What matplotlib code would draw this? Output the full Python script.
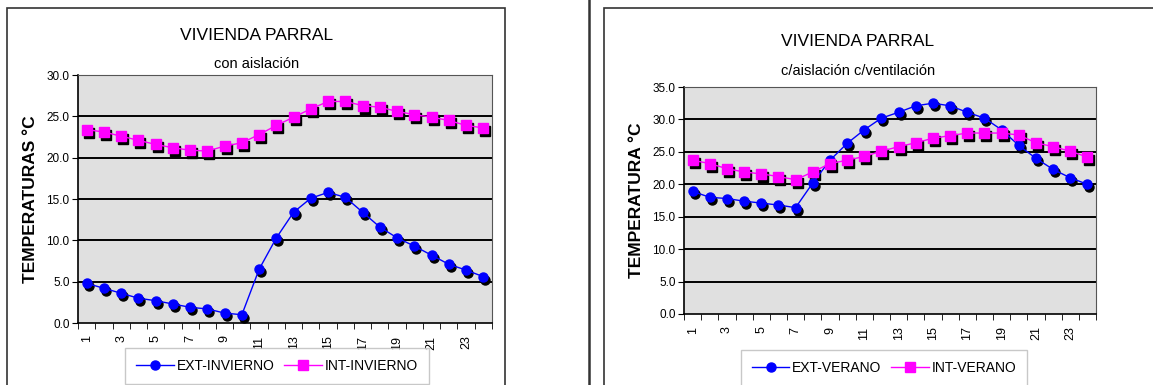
import numpy as np
import matplotlib
matplotlib.use('Agg')
import matplotlib.pyplot as plt
import matplotlib.transforms as mtransforms
from matplotlib.patches import Rectangle
from matplotlib.lines import Line2D

# --- data ---
horas = list(range(1, 25))
tick_labels = [str(h) if h % 2 == 1 else '' for h in horas]

ext_invierno = [4.8, 4.2, 3.6, 3.0, 2.7, 2.3, 1.9, 1.7, 1.2, 1.0, 6.5, 10.3,
                13.4, 15.1, 15.8, 15.2, 13.4, 11.6, 10.3, 9.3, 8.2, 7.1, 6.4, 5.6]
int_invierno = [23.4, 23.1, 22.6, 22.1, 21.6, 21.2, 20.9, 20.8, 21.4, 21.8, 22.8, 23.9,
                24.9, 25.9, 26.8, 26.8, 26.3, 26.1, 25.6, 25.2, 24.9, 24.5, 23.9, 23.6]

ext_verano = [18.9, 18.0, 17.8, 17.4, 17.1, 16.8, 16.4, 20.2, 23.7, 26.3, 28.4, 30.2,
              31.1, 32.1, 32.5, 32.1, 31.1, 30.2, 28.4, 26.0, 24.0, 22.3, 21.0, 20.0]
int_verano = [23.7, 23.2, 22.4, 21.9, 21.6, 21.2, 20.7, 21.9, 23.2, 23.7, 24.3, 25.1,
              25.8, 26.4, 27.1, 27.5, 27.9, 27.9, 27.9, 27.6, 26.4, 25.8, 25.1, 24.2]

W, H = 1153, 385
fig = plt.figure(figsize=(W / 100, H / 100), dpi=100)
fig.patch.set_facecolor('white')

font = ['Liberation Sans', 'DejaVu Sans']

# frames around each chart and separator line
fig.add_artist(Rectangle((7 / W, -0.05), (505 - 7) / W, 1.05 - 8 / H,
                         transform=fig.transFigure, fill=False, ec='#333333', lw=1.2))
fig.add_artist(Rectangle((604 / W, -0.05), 0.5, 1.05 - 8 / H,
                         transform=fig.transFigure, fill=False, ec='#333333', lw=1.2))
fig.add_artist(Line2D([589 / W, 589 / W], [0, 1], transform=fig.transFigure,
                      color='#333333', lw=1.8))


def draw_chart(rect, ext, inte, ymax, title, subtitle, ylabel, names,
               title_x, title_y, legend_x, legend_y):
    ax = fig.add_axes(rect)
    ax.set_facecolor('#e0e0e0')
    x = np.arange(len(horas))
    ax.set_xlim(-0.5, len(horas) - 0.5)
    ax.set_ylim(0, ymax)
    yt = np.arange(0, ymax + 0.1, 5)
    ax.set_yticks(yt)
    ax.set_yticklabels(['%.1f' % v for v in yt], fontsize=8.5, family=font)
    for v in yt[1:]:
        ax.axhline(v, color='black', lw=1.4, zorder=1)
    ax.set_xticks(x)
    ax.set_xticklabels(tick_labels, rotation=90, fontsize=9, family=font)
    ax.set_xticks(np.arange(-0.5, len(horas)), minor=True)
    ax.tick_params(axis='x', which='major', length=0, pad=9)
    ax.tick_params(axis='x', which='minor', length=4, direction='out')
    ax.tick_params(axis='y', length=4, direction='out', pad=2)
    for s in ['top', 'right']:
        ax.spines[s].set_color('#555555')
    for s in ['left', 'bottom']:
        ax.spines[s].set_color('black')
        ax.spines[s].set_linewidth(1.2)
    ax.set_ylabel(ylabel, fontsize=12.5, fontweight='bold', family=font, labelpad=6)

    # black drop shadow under each marker
    shadow = mtransforms.offset_copy(ax.transData, fig=fig, x=2, y=-3, units='dots')
    ax.plot(x, ext, 'o', color='black', ms=6.5, transform=shadow, zorder=2)
    ax.plot(x, inte, 's', color='black', ms=6.5, transform=shadow, zorder=2)
    ax.plot(x, ext, '-o', color='#0000ff', ms=6.5, lw=1, label=names[0], zorder=3)
    ax.plot(x, inte, '-s', color='#ff00ff', ms=6.5, lw=1, label=names[1], zorder=3)

    fig.text(title_x, title_y, title, ha='center', va='center', fontsize=12.5,
             family=font)
    fig.text(title_x, title_y - 29 / H, subtitle, ha='center', va='center',
             fontsize=10.5, family=font)

    leg = ax.legend(loc='upper center', bbox_to_anchor=(legend_x, legend_y),
                    bbox_transform=fig.transFigure, ncol=2, frameon=True,
                    fancybox=False, borderpad=0.8, borderaxespad=0,
                    handlelength=2.7, columnspacing=0.7, handletextpad=0.2,
                    prop={'family': font, 'size': 10})
    leg.get_frame().set_edgecolor('#bbbbbb')
    leg.get_frame().set_linewidth(1)
    return ax


draw_chart([78 / W, 62 / H, 414 / W, 248 / H], ext_invierno, int_invierno, 30,
           'VIVIENDA PARRAL', 'con aislación', 'TEMPERATURAS °C',
           ['EXT-INVIERNO', 'INT-INVIERNO'], 257 / W, 1 - 35 / H, 277 / W, 1 - 348 / H)
draw_chart([684 / W, 71 / H, 412 / W, 227 / H], ext_verano, int_verano, 35,
           'VIVIENDA PARRAL', 'c/aislación c/ventilación', 'TEMPERATURA °C',
           ['EXT-VERANO', 'INT-VERANO'], 858 / W, 1 - 42 / H, 884 / W, 1 - 350 / H)

fig.savefig('out.png', dpi=100)
